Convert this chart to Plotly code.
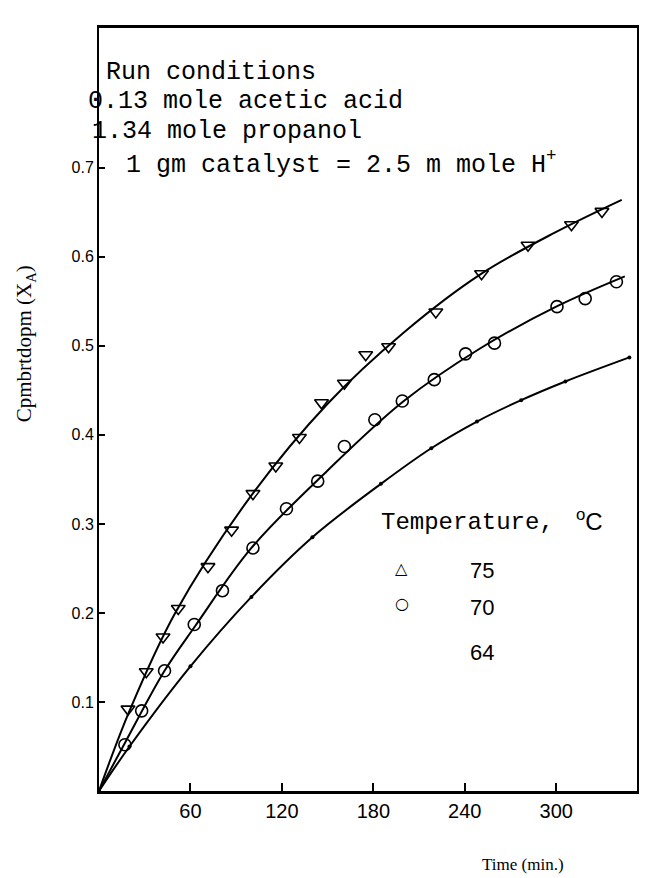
import plotly.graph_objects as go

# ---- data ----
# measured points, 75 C (triangles)
t75 = [19, 31, 42, 52, 71.5, 87, 101, 116, 131.5, 146, 161, 175, 190, 221, 251, 281.5, 310, 330]
x75 = [0.092, 0.134, 0.173, 0.205, 0.252, 0.293, 0.334, 0.365, 0.397, 0.436, 0.458, 0.490,
       0.499, 0.538, 0.581, 0.613, 0.636, 0.651]
# measured points, 70 C (circles)
t70 = [17, 28, 43, 62.5, 81, 101, 123, 143.5, 161, 181, 199, 220, 240.5, 259.5, 300.5, 319, 339.5]
x70 = [0.052, 0.090, 0.135, 0.187, 0.225, 0.273, 0.317, 0.348, 0.387, 0.417, 0.438, 0.462,
       0.491, 0.503, 0.544, 0.553, 0.572]

# fitted curves as drawn
fit75_t = [0, 20, 50, 100, 150, 200, 250, 300, 343]
fit75_x = [0, 0.090, 0.200, 0.332, 0.435, 0.515, 0.580, 0.628, 0.664]
fit70_t = [0, 17, 43, 63, 100, 150, 200, 250, 300, 345]
fit70_x = [0, 0.054, 0.135, 0.185, 0.273, 0.360, 0.438, 0.497, 0.544, 0.578]
fit64_t = [0, 20, 60, 100, 140, 185, 218, 248, 277, 306, 348]
fit64_x = [0, 0.050, 0.140, 0.218, 0.285, 0.345, 0.385, 0.415, 0.439, 0.460, 0.487]

x_ticks = [60, 120, 180, 240, 300]
y_ticks = [0.1, 0.2, 0.3, 0.4, 0.5, 0.6, 0.7]
y_ticktext = ["0.1", "0.2", "0.3", "0.4", "0.5", "0.6", "0.7"]

run_conditions = ["Run conditions", "0.13 mole acetic acid", "1.34 mole propanol",
                  "1 gm catalyst = 2.5 m mole H<sup>+</sup>"]
legend_title = "Temperature,"
legend_temps = ["75", "70", "64"]

fig = go.Figure()

line_style = dict(color="black", width=2, shape="spline", smoothing=1.0)
fig.add_trace(go.Scatter(x=fit75_t, y=fit75_x, mode="lines", line=line_style, cliponaxis=False))
fig.add_trace(go.Scatter(x=fit70_t, y=fit70_x, mode="lines", line=line_style, cliponaxis=False))
fig.add_trace(go.Scatter(x=fit64_t, y=fit64_x, mode="lines+markers", line=line_style,
                         marker=dict(size=4, color="black"), cliponaxis=False))
fig.add_trace(go.Scatter(x=t75, y=x75, mode="markers", cliponaxis=False,
                         marker=dict(symbol="triangle-down-open", size=12, color="black",
                                     line=dict(width=1.6, color="black"))))
fig.add_trace(go.Scatter(x=t70, y=x70, mode="markers", cliponaxis=False,
                         marker=dict(symbol="circle-open", size=12, color="black",
                                     line=dict(width=1.6, color="black"))))

mono = "Liberation Mono, Courier New, monospace"
serif = "Liberation Serif, Times New Roman, serif"
sans = "Liberation Sans, Arial, sans-serif"

# plot area: x 99..639 px, y 28..791 px
def px(xp):
    return (xp - 99) / 540.0

def py(yp):
    return (791 - yp) / 763.0

ann = []
cond_pos = [(104, 73), (86, 102), (90, 131), (124, 163)]
for txt, (xp, yp) in zip(run_conditions, cond_pos):
    ann.append(dict(text=txt, x=px(xp), y=py(yp), xref="paper", yref="paper",
                    xanchor="left", yanchor="middle", showarrow=False,
                    font=dict(family=mono, size=25, color="black")))

ann.append(dict(text=legend_title, x=px(380), y=py(522), xref="paper", yref="paper",
                xanchor="left", yanchor="middle", showarrow=False,
                font=dict(family=mono, size=24, color="black")))
ann.append(dict(text="<sup>o</sup>C", x=px(576), y=py(520), xref="paper", yref="paper",
                xanchor="left", yanchor="middle", showarrow=False,
                font=dict(family=sans, size=24, color="black")))
ann.append(dict(text="△", x=px(403), y=py(568), xref="paper", yref="paper",
                xanchor="center", yanchor="middle", showarrow=False,
                font=dict(family="DejaVu Sans", size=16, color="black")))
ann.append(dict(text="○", x=px(403), y=py(603), xref="paper", yref="paper",
                xanchor="center", yanchor="middle", showarrow=False,
                font=dict(family="DejaVu Sans", size=16, color="black")))
for txt, yp in zip(legend_temps, [570, 607, 652]):
    ann.append(dict(text=txt, x=px(483), y=py(yp), xref="paper", yref="paper",
                    xanchor="center", yanchor="middle", showarrow=False,
                    font=dict(family=sans, size=22, color="black")))

ann.append(dict(text="Time (min.)", x=px(525), y=py(864), xref="paper", yref="paper",
                xanchor="center", yanchor="middle", showarrow=False,
                font=dict(family=serif, size=17, color="black")))
ann.append(dict(text="Cpmbrtdopm (X<sub>A</sub>)", x=px(25), y=py(344), xref="paper", yref="paper",
                xanchor="center", yanchor="middle", showarrow=False, textangle=-90,
                font=dict(family=serif, size=21, color="black")))

fig.update_layout(
    width=649, height=878,
    margin=dict(l=99, r=10, t=28, b=87),
    paper_bgcolor="white", plot_bgcolor="white",
    showlegend=False,
    annotations=ann,
    xaxis=dict(range=[0, 353], tickvals=x_ticks, ticktext=[str(v) for v in x_ticks],
               showgrid=False, zeroline=False, showline=True, mirror=True,
               linecolor="black", linewidth=3, ticks="inside", ticklen=8, tickwidth=2,
               tickcolor="black", tickfont=dict(family=sans, size=20, color="black")),
    yaxis=dict(range=[0, 0.857], tickvals=y_ticks, ticktext=y_ticktext,
               showgrid=False, zeroline=False, showline=True, mirror=True,
               linecolor="black", linewidth=2, ticks="inside", ticklen=6, tickwidth=1.5,
               tickcolor="black", tickfont=dict(family=sans, size=16, color="black")),
)

fig.write_html("out.html")
